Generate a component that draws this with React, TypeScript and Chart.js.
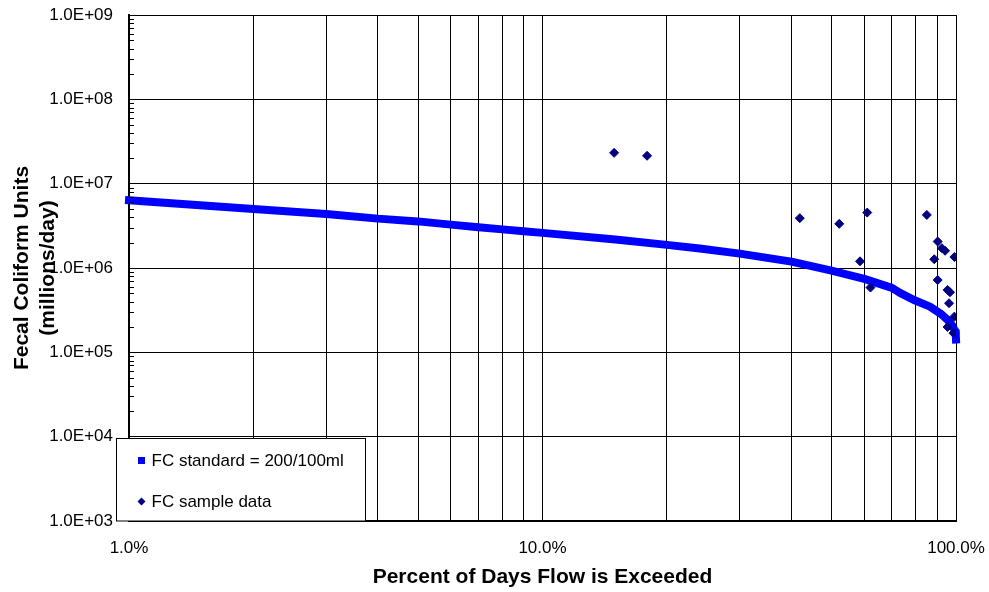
import React, { useEffect, useRef } from 'react';
import { Chart, registerables } from 'chart.js';

Chart.register(...registerables);

// FC standard load duration curve (percent of days exceeded, millions/day)
const curvePercent = [1, 2, 3, 4, 5, 6, 7, 8, 9, 10, 15, 20, 24, 30, 40, 50, 60, 70, 73.2, 79.7, 86.5, 91.9, 95.5, 98.3, 99.6, 99.9, 100];
const curveLoad = [6.34e6, 5.02e6, 4.38e6, 3.85e6, 3.57e6, 3.27e6, 3.05e6, 2.87e6, 2.73e6, 2.61e6, 2.18e6, 1.88e6, 1.7e6, 1.48e6, 1.19e6, 9.3e5, 7.43e5, 5.81e5, 5.07e5, 4.11e5, 3.48e5, 2.86e5, 2.42e5, 2.02e5, 1.75e5, 1.58e5, 1.42e5];

// FC sample data
const samplePercent = [14.9, 17.9, 41.9, 52.2, 58.6, 61.0, 62.1, 85.0, 88.6, 90.3, 90.3, 92.4, 94.1, 95.4, 96.2, 96.7, 95.4, 99.1, 99.1, 98.6];
const sampleLoad = [2.32e7, 2.14e7, 3.9e6, 3.34e6, 1.2e6, 4.54e6, 5.86e5, 4.26e6, 1.27e6, 2.06e6, 7.2e5, 1.72e6, 1.6e6, 5.5e5, 3.82e5, 5.16e5, 2.0e5, 1.35e6, 2.65e5, 1.69e5];

const seriesLabels = ['FC standard = 200/100ml', 'FC sample data'];

const xTickValues = [1, 2, 3, 4, 5, 6, 7, 8, 9, 10, 20, 30, 40, 50, 60, 70, 80, 90, 100];
const xLabeled = [1, 10, 100];
const xLabelText = ['1.0%', '10.0%', '100.0%'];

const yTickValues = [1e3, 1e4, 1e5, 1e6, 1e7, 1e8, 1e9];
const yTickLabels = ['1.0E+03', '1.0E+04', '1.0E+05', '1.0E+06', '1.0E+07', '1.0E+08', '1.0E+09'];
const yMinorMultipliers = [2, 3, 4, 5, 6, 7, 8, 9];

const FONT = 'Liberation Sans, Arial, sans-serif';

const overlayPlugin = {
  id: 'overlay',
  afterDraw(chart: any) {
    const { ctx, chartArea, scales } = chart;
    const y = scales.y;
    ctx.save();
    // inside minor ticks on the y axis
    ctx.strokeStyle = '#000';
    ctx.lineWidth = 1;
    ctx.beginPath();
    for (let i = 0; i < yTickValues.length - 1; i++) {
      for (const m of yMinorMultipliers) {
        const py = Math.round(y.getPixelForValue(yTickValues[i] * m)) + 0.5;
        ctx.moveTo(chartArea.left, py);
        ctx.lineTo(chartArea.left + 5, py);
      }
    }
    ctx.stroke();

    // legend box
    const lx = Math.round(chartArea.left - 13) + 0.5;
    const ly = Math.round(y.getPixelForValue(1e4)) + 1.5;
    const lw = 249;
    const lh = Math.round(chartArea.bottom) - ly;
    ctx.fillStyle = '#fff';
    ctx.fillRect(lx, ly, lw, lh);
    ctx.strokeStyle = '#000';
    ctx.lineWidth = 1;
    ctx.strokeRect(lx, ly, lw, lh);

    const ds = chart.data.datasets;
    const curveDs = ds.find((d: any) => d.label === seriesLabels[0]);
    const sampleDs = ds.find((d: any) => d.label === seriesLabels[1]);
    const mx = lx + 25;
    const y1 = ly + 22;
    const y2 = ly + 63;
    ctx.fillStyle = curveDs.borderColor;
    ctx.fillRect(mx - 3.5, y1 - 3.5, 7, 7);
    ctx.fillStyle = sampleDs.backgroundColor;
    ctx.beginPath();
    ctx.moveTo(mx, y2 - 4);
    ctx.lineTo(mx + 4, y2);
    ctx.lineTo(mx, y2 + 4);
    ctx.lineTo(mx - 4, y2);
    ctx.closePath();
    ctx.fill();

    ctx.fillStyle = '#000';
    ctx.font = `17px ${FONT}`;
    ctx.textBaseline = 'middle';
    ctx.textAlign = 'left';
    ctx.fillText(seriesLabels[0], lx + 35, y1 + 1);
    ctx.fillText(seriesLabels[1], lx + 35, y2 + 1);
    ctx.restore();
  },
};

export default function App() {
  const ref = useRef<HTMLCanvasElement | null>(null);

  useEffect(() => {
    if (!ref.current) return;
    const chart = new Chart(ref.current, {
      type: 'scatter',
      data: {
        datasets: [
          {
            label: seriesLabels[1],
            data: samplePercent.map((p, i) => ({ x: p, y: sampleLoad[i] })),
            pointStyle: 'rectRot',
            pointRadius: 4.5,
            pointHoverRadius: 4.5,
            backgroundColor: '#000080',
            borderColor: '#000080',
            borderWidth: 1,
            order: 0,
          },
          {
            label: seriesLabels[0],
            data: curvePercent.map((p, i) => ({ x: p, y: curveLoad[i] })),
            showLine: true,
            borderColor: '#0000FF',
            backgroundColor: '#0000FF',
            borderWidth: 8,
            pointRadius: 0,
            pointHoverRadius: 0,
            borderCapStyle: 'square',
            borderJoinStyle: 'round',
            clip: false,
            order: 1,
          } as any,
        ],
      },
      options: {
        animation: false,
        responsive: true,
        maintainAspectRatio: false,
        layout: { padding: { left: 0, top: 15, right: 33, bottom: 0 } },
        plugins: {
          legend: { display: false },
          tooltip: { enabled: false },
        },
        scales: {
          x: {
            type: 'logarithmic',
            min: 1,
            max: 100,
            afterBuildTicks: (s: any) => {
              s.ticks = xTickValues.map((v) => ({ value: v }));
            },
            afterFit: (s: any) => {
              s.height = 71;
            },
            ticks: {
              autoSkip: false,
              maxRotation: 0,
              minRotation: 0,
              padding: 0,
              color: '#000',
              font: { family: FONT, size: 17 },
              callback: (v: any) => {
                const idx = xLabeled.indexOf(Number(v));
                return idx >= 0 ? xLabelText[idx] : '';
              },
            },
            grid: { color: '#000', lineWidth: 1, drawTicks: true, tickLength: 17, tickColor: 'rgba(0,0,0,0)' },
            border: { display: true, color: '#000', width: 2 },
            title: {
              display: true,
              text: 'Percent of Days Flow is Exceeded',
              color: '#000',
              font: { family: FONT, size: 21, weight: 'bold', lineHeight: 1.2 },
              padding: { top: 0, bottom: 2 },
            },
          },
          y: {
            type: 'logarithmic',
            min: 1e3,
            max: 1e9,
            afterBuildTicks: (s: any) => {
              s.ticks = yTickValues.map((v) => ({ value: v }));
            },
            afterFit: (s: any) => {
              s.width = 129;
            },
            ticks: {
              autoSkip: false,
              padding: 0,
              color: '#000',
              font: { family: FONT, size: 17 },
              callback: (v: any) => {
                const idx = yTickValues.indexOf(Number(v));
                return idx >= 0 ? yTickLabels[idx] : '';
              },
            },
            grid: { color: '#000', lineWidth: 1, drawTicks: true, tickLength: 16, tickColor: 'rgba(0,0,0,0)' },
            border: { display: true, color: '#000', width: 2 },
            title: {
              display: true,
              text: ['Fecal Coliform Units', '(millions/day)'],
              color: '#000',
              font: { family: FONT, size: 21, weight: 'bold', lineHeight: 1.2 },
              padding: { top: 10, bottom: 0 },
            },
          },
        },
      } as any,
      plugins: [overlayPlugin],
    });
    return () => chart.destroy();
  }, []);

  return (
    <div style={{ position: 'fixed', left: 0, top: 0, width: 989, height: 592, background: '#fff' }}>
      <canvas ref={ref} />
    </div>
  );
}
